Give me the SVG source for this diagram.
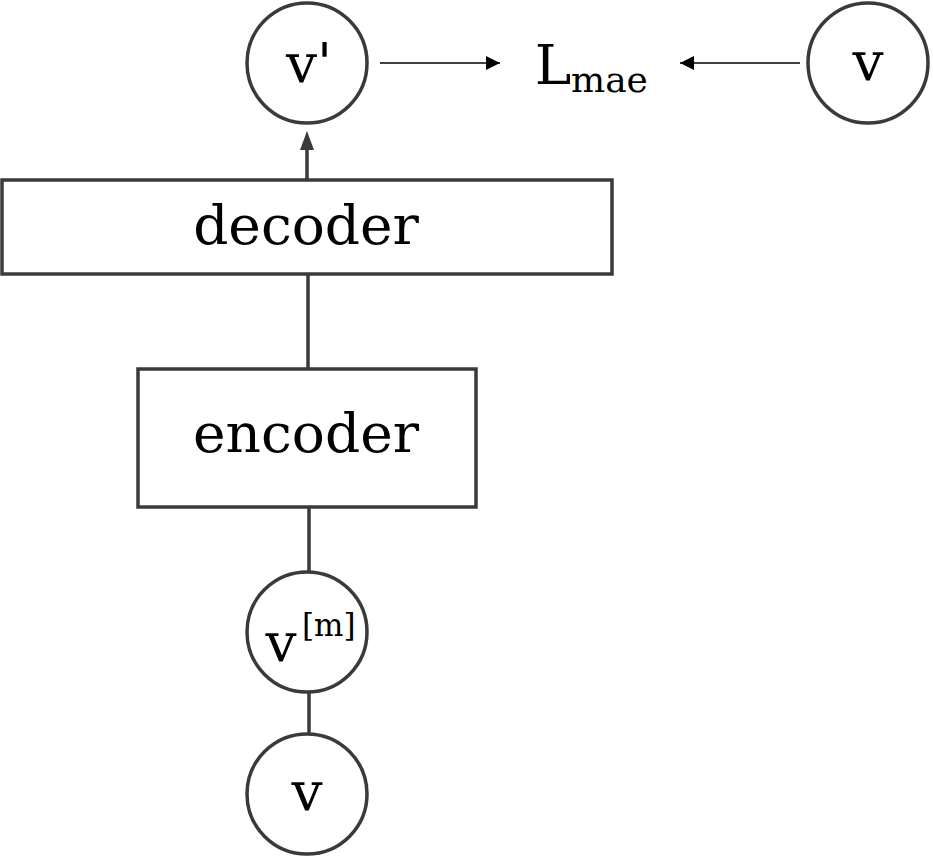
<svg xmlns="http://www.w3.org/2000/svg" width="933" height="857" viewBox="0 0 933 857">
<defs>
<style>
.node{fill:#fff;stroke:#3a3a3a;stroke-width:3.5}
.t{font-family:"DejaVu Serif",serif;font-size:55px;fill:#000;text-anchor:middle}
.s{font-family:"DejaVu Serif",serif;font-size:36px;fill:#000}
.c{stroke:#3a3a3a;stroke-width:3.5;fill:none}
.a{stroke:#000;stroke-width:1.5;fill:none}
</style>
<marker id="ah2" viewBox="0 0 10 10" refX="10" refY="5" markerWidth="16" markerHeight="14" markerUnits="userSpaceOnUse" orient="auto"><path d="M0,0 L10,5 L0,10 z" fill="#000"/></marker>
</defs>
<rect width="933" height="857" fill="#fff"/>
<g id="connectors">
<line class="c" x1="309" y1="734" x2="309" y2="692"/>
<line class="c" x1="309" y1="572" x2="309" y2="507"/>
<line class="c" x1="308" y1="368" x2="308" y2="274"/>
<line class="c" x1="307" y1="180" x2="307" y2="140"/>
<path d="M300,150 L307,131 L314,150 z" fill="#3a3a3a"/>
<line class="a" x1="380" y1="63" x2="500" y2="63" marker-end="url(#ah2)"/>
<line class="a" x1="800" y1="63" x2="680" y2="63" marker-end="url(#ah2)"/>
</g>
<g id="v_prime"><circle class="node" cx="307" cy="63" r="60"/><text class="t" x="309" y="82">v'</text></g>
<g id="loss"><text class="t" x="553" y="84">L</text><text class="s" x="571" y="92">mae</text></g>
<g id="v_top"><circle class="node" cx="868" cy="63" r="60"/><text class="t" x="868" y="80">v</text></g>
<g id="decoder"><rect class="node" x="2" y="180" width="610" height="94" stroke-width="4"/><text class="t" x="306" y="244">decoder</text></g>
<g id="encoder"><rect class="node" x="138" y="369" width="338" height="138"/><text class="t" x="306" y="452">encoder</text></g>
<g id="v_masked"><circle class="node" cx="307" cy="632" r="60"/><text class="t" x="281" y="661">v</text><text class="s" x="302" y="636" style="font-size:31px">[m]</text></g>
<g id="v_bottom"><circle class="node" cx="307" cy="794" r="60"/><text class="t" x="307" y="810">v</text></g>
</svg>
